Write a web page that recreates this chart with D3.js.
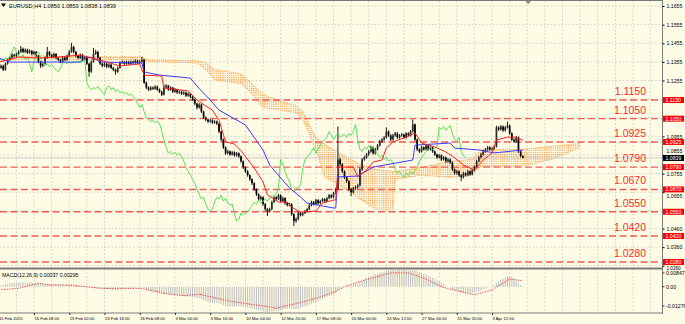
<!DOCTYPE html>
<html><head><meta charset="utf-8">
<script src="https://cdn.jsdelivr.net/npm/d3@7"></script>
<style>
html,body{margin:0;padding:0;background:#fffce6;}
svg{display:block;font-family:"Liberation Sans",Arial,sans-serif;}
</style></head><body>
<svg id="chart" width="685" height="324"></svg>
<script>
// ---------------- DATA (prices in 0.0001 units) ----------------
const symbolTitle = "EURUSD,H4 1.0850 1.0853 1.0838 1.0839";
const macdTitle = "MACD(12,26,9) 0.00037 0.00295";
const timeLabels = ["11 Feb 2015","16 Feb 08:00","19 Feb 00:00","23 Feb 16:00","26 Feb 08:00","3 Mar 00:00","5 Mar 16:00","10 Mar 04:00","12 Mar 20:00","17 Mar 08:00","20 Mar 00:00","24 Mar 12:00","27 Mar 04:00","31 Mar 20:00","3 Apr 12:00"];
const timeLabelBars = [0,16,32,48,64,80,96,112,128,144,160,176,192,208,224];
const priceTicks = [11655,11555,11455,11355,11255,11155,11055,10955,10855,10755,10655,10555,10460,10360,10260];
const priceLabelTicks = [11655,11555,11455,11355,11255,10955,10855,10755,10655,10460,10360,10260];
const levels = [11150,11050,10925,10790,10670,10550,10420,10280];
const lastPrice = 10839;
const macdRange = [-127.6, 84.7];
const macdTicks = [84.7, 0, -127.6];
const chikouShift = 26;

const opens = [11340,11323,11334,11313,11345,11366,11377,11393,11388,11398,
11409,11425,11409,11420,11404,11414,11398,11409,11388,11356,
11334,11345,11377,11409,11393,11382,11398,11377,11366,11356,
11377,11366,11388,11409,11436,11409,11388,11377,11393,11366,
11377,11345,11302,11356,11398,11409,11377,11345,11334,11345,
11329,11340,11323,11313,11302,11323,11350,11356,11345,11356,
11345,11356,11350,11361,11350,11356,11366,11243,11217,11206,
11217,11211,11222,11206,11195,11179,11217,11227,11206,11217,
11195,11206,11190,11195,11184,11190,11174,11184,11168,11152,
11131,11110,11126,11088,11056,11045,11035,11040,11029,11035,
11024,10981,10938,10896,10864,10874,10858,10869,10853,10864,
10848,10821,10789,10767,10746,10725,10703,10671,10644,10618,
10628,10591,10564,10553,10564,10602,10628,10618,10639,10607,
10623,10596,10585,10591,10537,10500,10511,10543,10532,10543,
10553,10564,10585,10602,10591,10612,10596,10607,10618,10607,
10623,10639,10628,10650,10671,10831,10805,10767,10735,10714,
10671,10655,10676,10682,10692,10778,10831,10842,10858,10874,
10896,10864,10885,10906,10928,10938,10949,10981,10960,10938,
10960,10971,10949,10960,10965,10949,10971,10960,10981,11019,
10938,10885,10874,10896,10885,10906,10885,10896,10874,10858,
10842,10853,10831,10842,10821,10831,10815,10778,10757,10767,
10746,10735,10757,10746,10767,10751,10773,10789,10821,10842,
10858,10874,10885,10896,10885,10890,10901,11003,10992,11008,
10987,11003,11013,10971,10938,10928,10949,10874,10850];
const highs = [11352,11341,11340,11352,11374,11385,11402,11399,11405,11418,
11440,11432,11427,11426,11422,11419,11416,11413,11392,11361,
11352,11384,11436,11414,11399,11405,11402,11382,11371,11384,
11381,11395,11418,11457,11441,11414,11393,11400,11398,11385,
11381,11350,11363,11430,11420,11414,11382,11351,11352,11350,
11347,11345,11328,11318,11330,11357,11363,11360,11362,11361,
11363,11362,11368,11366,11364,11382,11370,11250,11224,11225,
11223,11230,11227,11212,11200,11232,11236,11232,11224,11221,
11214,11211,11203,11200,11197,11195,11191,11189,11173,11157,
11136,11134,11131,11093,11062,11051,11048,11046,11042,11040,
11029,10986,10944,10901,10882,10879,10876,10874,10871,10869,
10853,10826,10794,10773,10751,10730,10709,10676,10650,10637,
10633,10597,10570,10572,10610,10636,10634,10647,10644,10631,
10628,10602,10598,10596,10542,10519,10550,10549,10550,10560,
10571,10592,10610,10608,10619,10618,10614,10625,10623,10630,
10646,10644,10657,10679,11008,10840,10811,10772,10741,10719,
10678,10684,10690,10700,10786,10839,10851,10866,10882,10905,
10901,10893,10914,10936,10946,10957,11003,10987,10966,10968,
10979,10977,10967,10973,10970,10978,10977,10989,11045,11024,
10943,10891,10904,10901,10914,10911,10903,10900,10879,10863,
10860,10858,10849,10847,10838,10836,10820,10783,10775,10772,
10752,10765,10763,10775,10772,10781,10797,10829,10850,10866,
10882,10893,10904,10902,10897,10909,11012,11009,11016,11013,
11011,11034,11018,10977,10944,10957,10954,10880,10853];
const lows = [11315,11318,11305,11308,11340,11360,11371,11380,11382,11392,
11403,11401,11402,11397,11398,11390,11392,11381,11348,11322,
11326,11340,11371,11385,11374,11376,11370,11358,11348,11350,
11359,11361,11382,11404,11401,11380,11369,11372,11358,11360,
11338,11275,11296,11350,11392,11370,11338,11326,11328,11321,
11323,11316,11305,11286,11296,11318,11344,11338,11340,11339,
11340,11344,11345,11344,11345,11350,11236,11208,11198,11200,
11204,11205,11199,11188,11172,11175,11210,11200,11200,11188,
11189,11183,11184,11177,11178,11166,11168,11160,11145,11122,
11099,11104,11080,11048,11037,11027,11029,11022,11023,11016,
10972,10929,10887,10855,10857,10850,10852,10846,10847,10840,
10813,10780,10759,10738,10716,10694,10662,10635,10609,10611,
10582,10555,10527,10546,10558,10596,10610,10612,10600,10601,
10588,10578,10579,10528,10473,10490,10505,10525,10526,10537,
10547,10558,10579,10584,10585,10589,10590,10601,10600,10601,
10617,10621,10622,10644,10664,10797,10758,10726,10705,10662,
10634,10648,10668,10674,10686,10771,10824,10835,10850,10867,
10856,10858,10879,10900,10920,10931,10943,10952,10930,10932,
10953,10942,10943,10953,10941,10943,10953,10954,10975,10930,
10876,10866,10868,10878,10879,10877,10879,10866,10850,10834,
10836,10823,10825,10813,10814,10807,10769,10749,10750,10738,
10714,10729,10739,10740,10743,10745,10767,10783,10815,10836,
10851,10867,10878,10878,10879,10884,10895,10984,10986,10979,
10981,10997,10963,10930,10920,10921,10866,10842,10838];
const closes = [11323,11334,11313,11345,11366,11377,11393,11388,11398,11409,
11425,11409,11420,11404,11414,11398,11409,11388,11356,11334,
11345,11377,11409,11393,11382,11398,11377,11366,11356,11377,
11366,11388,11409,11436,11409,11388,11377,11393,11366,11377,
11345,11302,11356,11398,11409,11377,11345,11334,11345,11329,
11340,11323,11313,11302,11323,11350,11356,11345,11356,11345,
11356,11350,11361,11350,11356,11366,11243,11217,11206,11217,
11211,11222,11206,11195,11179,11217,11227,11206,11217,11195,
11206,11190,11195,11184,11190,11174,11184,11168,11152,11131,
11110,11126,11088,11056,11045,11035,11040,11029,11035,11024,
10981,10938,10896,10864,10874,10858,10869,10853,10864,10848,
10821,10789,10767,10746,10725,10703,10671,10644,10618,10628,
10591,10564,10553,10564,10602,10628,10618,10639,10607,10623,
10596,10585,10591,10537,10500,10511,10543,10532,10543,10553,
10564,10585,10602,10591,10612,10596,10607,10618,10607,10623,
10639,10628,10650,10671,10831,10805,10767,10735,10714,10671,
10655,10676,10682,10692,10778,10831,10842,10858,10874,10896,
10864,10885,10906,10928,10938,10949,10981,10960,10938,10960,
10971,10949,10960,10965,10949,10971,10960,10981,11019,10938,
10885,10874,10896,10885,10906,10885,10896,10874,10858,10842,
10853,10831,10842,10821,10831,10815,10778,10757,10767,10746,
10735,10757,10746,10767,10751,10773,10789,10821,10842,10858,
10874,10885,10896,10885,10890,10901,11003,10992,11008,10987,
11003,11013,10971,10938,10928,10949,10874,10850,10839];

const tenkanBars = [0,9,18,27,37,46,55,64,66,74,75,86,90,94,97,100,103,107,110,116,120,122,127,131,133,137,144,147,152,153,154,161,163,167,170,174,176,179,185,189,192,198,203,206,211,216,220,224,226,231,234,238];
const tenkanVals = [11354,11381,11376,11381,11392,11365,11333,11344,11284,11279,11215,11199,11150,11118,11096,11042,10925,10914,10878,10785,10710,10640,10602,10602,10575,10548,10554,10597,10613,10613,10790,10790,10737,10774,10817,10828,10892,10925,10951,10973,10919,10898,10871,10849,10801,10774,10828,10866,10935,10951,10951,10935];
const kijunBars = [0,5,37,39,43,46,65,66,73,87,90,96,100,112,120,123,132,137,140,152,153,154,163,170,188,189,205,207,218,225,238];
const kijunVals = [11376,11354,11354,11381,11376,11354,11349,11301,11284,11268,11225,11150,11096,11016,10882,10801,10678,10629,10597,10570,10570,10737,10742,10790,10828,10908,10919,10892,10882,10866,10882];
const cloudBars = [5,18,37,65,68,90,94,98,110,114,120,126,135,138,144,148,154,164,171,179,180,192,205,215,219,237,251,264];
const spanA = [11382,11388,11382,11382,11366,11361,11350,11313,11291,11249,11179,11152,11120,11088,10949,10912,10869,10805,10778,10767,10767,10789,10821,10831,10885,10885,10901,10917];
const spanB = [11366,11372,11366,11366,11356,11350,11313,11259,11238,11195,11110,11099,11083,11045,10885,10735,10698,10618,10564,10564,10725,10746,10735,10751,10794,10794,10831,10896];

const macdHist = [5,8,10,13,15,17,19,20,21,22,
22,22,22,21,21,20,19,18,17,16,
15,14,14,13,13,12,12,11,11,10,
10,10,11,12,12,11,8,6,4,2,
0,-3,-5,-6,-7,-8,-9,-10,-11,-12,
-12,-13,-13,-13,-12,-11,-10,-9,-8,-7,
-6,-5,-4,-3,-3,-2,-8,-14,-20,-24,
-28,-30,-32,-34,-36,-37,-37,-39,-40,-41,
-42,-44,-45,-46,-47,-49,-50,-51,-52,-55,
-58,-60,-63,-68,-72,-76,-78,-80,-81,-82,
-85,-89,-94,-98,-100,-100,-100,-100,-100,-99,
-100,-101,-103,-105,-107,-110,-113,-116,-120,-120,
-123,-126,-128,-128,-126,-124,-121,-119,-117,-115,
-113,-111,-110,-111,-114,-113,-110,-106,-103,-99,
-95,-90,-85,-81,-76,-71,-66,-61,-57,-52,
-47,-42,-37,-32,-18,-10,-4,0,3,5,
7,10,13,16,22,29,36,42,48,54,
58,62,66,70,74,77,80,82,84,85,
85,85,85,85,84,84,83,83,84,82,
78,74,70,65,60,55,50,45,40,34,
27,20,13,6,0,-6,-12,-17,-21,-25,
-28,-30,-32,-33,-33,-32,-30,-27,-23,-18,
-13,-8,-3,1,5,9,18,26,34,40,
46,52,54,50,42,30,16,10,4];
const signalBars = [0,9,15,18,23,31,40,46,53,64,68,76,84,91,99,106,114,122,126,131,137,145,152,157,165,178,186,194,201,216,224,232,238];
const signalVals = [-16,-8,9,18,9,9,0,-8,-10,-8,-15,-35,-45,-38,-58,-75,-88,-100,-109,-95,-80,-55,-28,0,30,70,70,39,-1,-41,-16,39,30];

// ---------------- DRAWING ----------------
const BG = "#fffce6", FRAME = "#7a7a7a";
const plotRight = 662;
const svg = d3.select("#chart");
svg.append("rect").attr("width",685).attr("height",324).attr("fill",BG);

const x = d3.scaleLinear().domain([0,300]).range([-1.2, -1.2 + 300*2.202]);
const y = d3.scaleLinear().domain([10248,11682]).range([268,1]);
const ym = d3.scaleLinear().domain(macdRange).range([312,270]);

const defs = svg.append("defs");
defs.append("clipPath").attr("id","mainClip").append("rect")
  .attr("x",0).attr("y",1).attr("width",plotRight).attr("height",267);
defs.append("clipPath").attr("id","macdClip").append("rect")
  .attr("x",0).attr("y",269.5).attr("width",plotRight).attr("height",43);
const pat = defs.append("pattern").attr("id","kumo").attr("patternUnits","userSpaceOnUse")
  .attr("width",2.202).attr("height",2.2);
pat.append("rect").attr("width",1.2).attr("height",1.2).attr("fill","#f5a04c");

const gMain = svg.append("g").attr("clip-path","url(#mainClip)");
const gMacd = svg.append("g").attr("clip-path","url(#macdClip)");

// grid
const gridBars = d3.range(0,300,8).filter(b => x(b) > 0 && x(b) < plotRight);
const gridStyle = s => s.attr("stroke","#c6c6c6").attr("stroke-width",0.8).attr("stroke-dasharray","1.6,2");
gMain.selectAll(".vg").data(gridBars).join("line")
  .attr("x1",d=>x(d)).attr("x2",d=>x(d)).attr("y1",1).attr("y2",268).call(gridStyle);
gMain.selectAll(".hg").data(priceTicks).join("line")
  .attr("x1",0).attr("x2",plotRight).attr("y1",d=>y(d)).attr("y2",d=>y(d)).call(gridStyle);
gMacd.selectAll(".vg").data(gridBars).join("line")
  .attr("x1",d=>x(d)).attr("x2",d=>x(d)).attr("y1",269).attr("y2",313).call(gridStyle);

// cloud
const cloud = cloudBars.map((b,i)=>({b, a:spanA[i], s:spanB[i]}));
gMain.append("path").attr("d", d3.area().x(d=>x(d.b)).y0(d=>y(d.a)).y1(d=>y(d.s))(cloud))
  .attr("fill","url(#kumo)");
["a","s"].forEach(k=>{
  gMain.append("path").attr("d", d3.line().x(d=>x(d.b)).y(d=>y(d[k]))(cloud))
    .attr("fill","none").attr("stroke","#f5a04c").attr("stroke-width",1).attr("stroke-dasharray","1,1.2");
});

// horizontal level lines
gMain.selectAll(".lvl").data(levels).join("line")
  .attr("x1",0).attr("x2",plotRight).attr("y1",d=>y(d)).attr("y2",d=>y(d))
  .attr("stroke","#f04a4a").attr("stroke-width",1.4).attr("stroke-dasharray","7,3.5").attr("opacity",0.9);
// current price line
gMain.append("line").attr("x1",0).attr("x2",plotRight).attr("y1",y(lastPrice)).attr("y2",y(lastPrice))
  .attr("stroke","#c8c8c8").attr("stroke-width",1);

// candles
const idx = d3.range(closes.length);
gMain.selectAll(".wick").data(idx).join("line")
  .attr("x1",i=>x(i)).attr("x2",i=>x(i)).attr("y1",i=>y(highs[i])).attr("y2",i=>y(lows[i]))
  .attr("stroke","#000").attr("stroke-width",0.9);
gMain.selectAll(".body").data(idx).join("rect")
  .attr("x",i=>x(i)-0.85).attr("width",1.7)
  .attr("y",i=>y(Math.max(opens[i],closes[i])))
  .attr("height",i=>Math.max(0.8, Math.abs(y(opens[i])-y(closes[i]))))
  .attr("fill",i=>closes[i]>=opens[i] ? "#2a2a2a" : "#000");

// ichimoku lines
const lineXY = d3.line().x(d=>x(d[0])).y(d=>y(d[1]));
const chikou = d3.range(chikouShift, closes.length).map(i=>[i-chikouShift, closes[i]]);
gMain.append("path").attr("d",lineXY(chikou)).attr("fill","none").attr("stroke","#55e055").attr("stroke-width",1);
gMain.append("path").attr("d",lineXY(d3.zip(kijunBars,kijunVals))).attr("fill","none").attr("stroke","#3a3aff").attr("stroke-width",1);
gMain.append("path").attr("d",lineXY(d3.zip(tenkanBars,tenkanVals))).attr("fill","none").attr("stroke","#ff2020").attr("stroke-width",1);

// big level labels
gMain.selectAll(".lvlTxt").data(levels).join("text")
  .attr("x",646).attr("y",d=>y(d)-5).attr("text-anchor","end")
  .attr("font-size",10.5).attr("fill","#ff2a2a").text(d=>(d/1e4).toFixed(4));

// MACD
gMacd.selectAll(".hist").data(idx).join("line")
  .attr("x1",i=>x(i)).attr("x2",i=>x(i)).attr("y1",ym(0)).attr("y2",i=>ym(macdHist[i]))
  .attr("stroke","#bdbdbd").attr("stroke-width",1);
gMacd.append("path").attr("d", d3.line().x(d=>x(d[0])).y(d=>ym(d[1]))(d3.zip(signalBars,signalVals)))
  .attr("fill","none").attr("stroke","#ff3030").attr("stroke-width",1).attr("stroke-dasharray","1.2,1.4");

// frame
svg.append("rect").attr("x",0).attr("y",0).attr("width",plotRight).attr("height",1).attr("fill",FRAME);
svg.append("rect").attr("x",0).attr("y",267.5).attr("width",plotRight+1).attr("height",2).attr("fill",FRAME);
svg.append("rect").attr("x",0).attr("y",312.5).attr("width",plotRight+1).attr("height",1).attr("fill",FRAME);
svg.append("rect").attr("x",plotRight).attr("y",0).attr("width",1).attr("height",313.5).attr("fill",FRAME);
svg.append("path").attr("d","M525.5,1 L531,1 L528.2,4.2 Z").attr("fill","#8a8a8a");

// titles
svg.append("path").attr("d","M1,3.6 L6,3.6 L3.5,7 Z").attr("fill","#000");
svg.append("text").attr("x",9).attr("y",8.4).attr("font-size",5.6).attr("fill","#000").text(symbolTitle);
svg.append("text").attr("x",2).attr("y",276.8).attr("font-size",5.2).attr("fill","#000").text(macdTitle);

// price axis (labels partly covered by boxes in MT4 are nudged clear of them)
const labelNudge = {10855:-4.5, 10655:3.6, 10260:2.2};
const pAxis = svg.append("g").attr("transform",`translate(${plotRight+0.5},0)`)
  .call(d3.axisRight(y).tickValues(priceLabelTicks).tickSize(2).tickPadding(2).tickFormat(d=>(d/1e4).toFixed(4)));
pAxis.select(".domain").remove();
pAxis.selectAll("line").attr("stroke","#000");
pAxis.selectAll("text").attr("font-size",d=>d===10260?4.6:5.2).attr("fill","#000")
  .attr("font-family","Liberation Sans, Arial").attr("dy",d=>`${0.32 + (labelNudge[d]||0)/5.2}em`);

// level boxes on the axis
const boxes = svg.append("g");
levels.forEach(l=>{
  boxes.append("rect").attr("x",plotRight+1).attr("y",y(l)-3).attr("width",21).attr("height",6).attr("fill","#ff0000");
  boxes.append("text").attr("x",plotRight+3.5).attr("y",y(l)+1.9).attr("font-size",5.2).attr("fill","#fff").text((l/1e4).toFixed(4));
});
boxes.append("rect").attr("x",plotRight+1).attr("y",y(lastPrice)-3).attr("width",21).attr("height",6).attr("fill","#000");
boxes.append("text").attr("x",plotRight+3.5).attr("y",y(lastPrice)+1.9).attr("font-size",5.2).attr("fill","#fff").text((lastPrice/1e4).toFixed(4));

// MACD axis labels
const mFmt = v => v === 0 ? "0.00" : (v/1e4).toFixed(5);
const mOff = [3, 0, -6];
macdTicks.forEach((v,i)=>{
  svg.append("line").attr("x1",plotRight+0.5).attr("x2",plotRight+2.5).attr("y1",ym(v)+mOff[i]).attr("y2",ym(v)+mOff[i]).attr("stroke","#000").attr("stroke-width",0.8);
  svg.append("text").attr("x",plotRight+4).attr("y",ym(v)+mOff[i]+1.8).attr("font-size",5.2).attr("fill","#000").text(mFmt(v));
});

// time axis
const tAxis = svg.append("g").attr("transform","translate(0,313)")
  .call(d3.axisBottom(x).tickValues(timeLabelBars).tickSize(2).tickFormat((d,i)=>timeLabels[i]));
tAxis.select(".domain").remove();
tAxis.selectAll("line").attr("stroke","#000").attr("stroke-width",0.8);
tAxis.selectAll("text").attr("text-anchor","start").attr("y",6.6).attr("dy",0)
  .attr("font-size",4.2).attr("fill","#000").attr("font-family","Liberation Sans, Arial");
</script>
</body></html>
